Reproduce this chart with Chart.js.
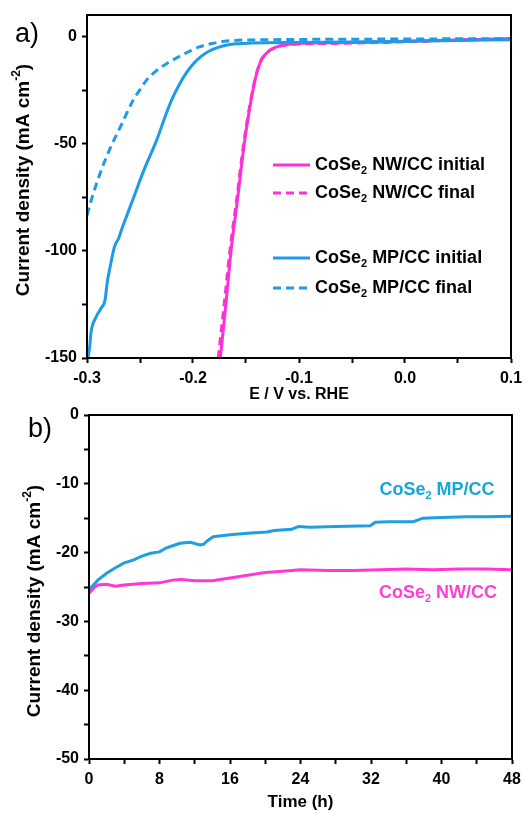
<!DOCTYPE html>
<html lang="en">

<head>
    <meta charset="UTF-8">
    <title>CoSe2 HER polarization and stability</title>
    <script src="https://cdn.jsdelivr.net/npm/chart.js"></script>
    <style>
        body {
            margin: 0;
            padding: 0;
            background: #fff;
        }

        #wrap {
            position: relative;
            width: 523px;
            height: 813px;
        }

        canvas {
            position: absolute;
            left: 0;
        }
    </style>
</head>

<body>
    <div id="wrap">
        <canvas id="chartA" width="523" height="404" style="top:0"></canvas>
        <canvas id="chartB" width="523" height="409" style="top:404px"></canvas>
    </div>

    <script>
        // ---- panel a: polarization curves (E vs RHE in V, j in mA cm-2) ----
        const nwInitE = [-0.1742, -0.1690, -0.1641, -0.1580, -0.1516, -0.1470, -0.1430, -0.1395, -0.1360, -0.1320, -0.1270, -0.1210, -0.1130, -0.1040, -0.0900, -0.0600, -0.0200, 0.0200, 0.0600, 0.1000];
        const nwInitJ = [-150, -125, -100, -76, -50, -35, -24, -16.5, -11.5, -8.5, -6.3, -4.9, -3.9, -3.4, -3.1, -2.9, -2.6, -2, -1.5, -1.1];

        const nwFinalE = [-0.1762, -0.1706, -0.1652, -0.1588, -0.1522, -0.1474, -0.1433, -0.1397, -0.1360, -0.1318, -0.1266, -0.1205, -0.1125, -0.1035, -0.0900, -0.0600, -0.0200, 0.0200, 0.0600, 0.1000];
        const nwFinalJ = [-150, -125, -100, -76, -50, -35, -24, -16.5, -11.3, -8.3, -6.2, -4.9, -4.0, -3.6, -3.4, -3.2, -2.8, -2.2, -1.6, -1.2];

        const mpInitE = [-0.2991, -0.2975, -0.2962, -0.2915, -0.2870, -0.2830, -0.2810, -0.2784, -0.2740, -0.2700, -0.2666, -0.2620, -0.2570, -0.2460, -0.2340, -0.2260, -0.2200, -0.2130, -0.2060, -0.1990, -0.1920, -0.1850, -0.1770, -0.1680, -0.1590, -0.1450, -0.1000, -0.0500, 0.0000, 0.0500, 0.1000];
        const mpInitJ = [-150, -145, -138, -131, -127, -123, -115, -108, -98, -94, -89, -83, -76.4, -62, -48, -37, -29.5, -22.5, -16.8, -12.4, -9.2, -6.9, -5.2, -4.0, -3.4, -3.1, -2.8, -2.6, -2.3, -1.9, -1.5];

        const mpFinalE = [-0.3000, -0.2960, -0.2870, -0.2780, -0.2690, -0.2565, -0.2500, -0.2440, -0.2350, -0.2250, -0.2150, -0.2060, -0.1940, -0.1820, -0.1720, -0.1630, -0.1400, -0.1000, -0.0500, 0.0000, 0.0500, 0.1000];
        const mpFinalJ = [-83.5, -76.4, -63, -52, -42.7, -29.8, -24.8, -20.5, -16.2, -12.7, -9.9, -7.6, -4.9, -3.3, -2.4, -1.9, -1.6, -1.4, -1.3, -1.2, -1.1, -1];

        const seriesA = ['CoSe₂ NW/CC initial', 'CoSe₂ NW/CC final', 'CoSe₂ MP/CC initial', 'CoSe₂ MP/CC final'];

        // ---- panel b: chronoamperometry (time in h, j in mA cm-2) ----
        const mpTime = [0, 0.5, 1, 2, 3, 4, 5, 6, 7, 8, 8.8, 9.5, 10.3, 11.5, 12.6, 13.0, 13.4, 14.1, 16, 18, 20.2, 21, 23, 23.8, 25, 28, 31.9, 32.5, 34, 36.8, 37.9, 40, 42.9, 45, 48];
        const mpCur = [-25.4, -24.7, -24.0, -23.0, -22.2, -21.5, -21.1, -20.5, -20.1, -19.9, -19.3, -19.0, -18.65, -18.5, -18.9, -18.8, -18.3, -17.7, -17.4, -17.2, -17.0, -16.8, -16.6, -16.2, -16.3, -16.2, -16.1, -15.6, -15.5, -15.5, -15.0, -14.9, -14.8, -14.8, -14.7];

        const nwTime = [0, 0.5, 1, 2, 3, 4, 6, 8, 9.5, 10.5, 12, 14, 16, 18, 20, 22, 24, 27, 30, 33, 36, 39, 42, 45, 48];
        const nwCur = [-25.9, -25.2, -24.7, -24.6, -24.9, -24.7, -24.5, -24.4, -24.0, -23.9, -24.1, -24.1, -23.7, -23.3, -22.9, -22.7, -22.5, -22.6, -22.6, -22.5, -22.4, -22.5, -22.4, -22.4, -22.5];

        const seriesB = ['CoSe₂ MP/CC', 'CoSe₂ NW/CC'];

        const PINK = '#ff30d6';
        const BLUE = '#1c9be8';
        const FONT = '"Liberation Sans", Arial, sans-serif';

        const toXY = (xs, ys) => xs.map((x, i) => ({ x: x, y: ys[i] }));

        // text with CoSe₂-style subscripts / cm⁻² superscripts
        function richParts(text) {
            const parts = [];
            text.split(/(₂|⁻²)/).forEach(s => {
                if (s === '₂') parts.push(['2', 'sub']);
                else if (s === '⁻²') parts.push(['-2', 'sup']);
                else if (s) parts.push([s, null]);
            });
            return parts;
        }

        function drawRich(ctx, text, x, y, size, color, align) {
            const parts = richParts(text);
            const base = `bold ${size}px ${FONT}`;
            const small = `bold ${Math.round(size * 0.62)}px ${FONT}`;
            let w = 0;
            parts.forEach(([t, m]) => { ctx.font = m ? small : base; w += ctx.measureText(t).width; });
            let cx = align === 'center' ? x - w / 2 : x;
            ctx.fillStyle = color;
            ctx.textAlign = 'left';
            ctx.textBaseline = 'middle';
            parts.forEach(([t, m]) => {
                ctx.font = m ? small : base;
                const dy = m === 'sub' ? size * 0.32 : (m === 'sup' ? -size * 0.36 : 0);
                ctx.fillText(t, cx, y + dy);
                cx += ctx.measureText(t).width;
            });
        }

        // frame, panel letter, rotated y title, legend / labels
        const extras = {
            id: 'extras',
            afterDraw(chart, args, opts) {
                const { ctx, chartArea: a } = chart;
                ctx.save();
                ctx.strokeStyle = '#000';
                ctx.lineWidth = 2;
                ctx.strokeRect(a.left, a.top, a.right - a.left, a.bottom - a.top);

                ctx.fillStyle = '#000';
                ctx.font = `27px ${FONT}`;
                ctx.textAlign = 'center';
                ctx.textBaseline = 'middle';
                ctx.fillText(opts.letter[0], opts.letter[1], opts.letter[2]);

                ctx.save();
                ctx.translate(opts.yTitle[0], opts.yTitle[1]);
                ctx.rotate(-Math.PI / 2);
                drawRich(ctx, 'Current density (mA cm⁻²)', 0, 0, 19, '#000', 'center');
                ctx.restore();

                (opts.legend || []).forEach(item => {
                    const ds = chart.data.datasets[item.i];
                    ctx.save();
                    ctx.strokeStyle = ds.borderColor;
                    ctx.lineWidth = 3;
                    ctx.setLineDash(ds.borderDash || []);
                    ctx.beginPath();
                    ctx.moveTo(273, item.y);
                    ctx.lineTo(310, item.y);
                    ctx.stroke();
                    ctx.restore();
                    drawRich(ctx, ds.label, 315, item.y, 18, '#000', 'left');
                });

                (opts.labels || []).forEach(item => {
                    drawRich(ctx, chart.data.datasets[item.i].label, item.x, item.y, 18, item.color, 'center');
                });
                ctx.restore();
            }
        };

        const tickFont = { family: FONT, size: 16, weight: 'bold' };
        const titleFont = { family: FONT, size: 16, weight: 'bold' };

        function axisBase(extra) {
            return Object.assign({
                type: 'linear',
                border: { display: true, color: '#000', width: 2 },
                grid: { drawOnChartArea: false, drawTicks: true, tickLength: 5, tickColor: '#000', tickWidth: 2 },
            }, extra);
        }

        // fixed axis band sizes so the plot box lands where the figure has it
        const fixX = h => s => { s.height = h; s.paddingLeft = 0; s.paddingRight = 0; };
        const fixY = w => s => { s.width = w; s.paddingTop = 0; s.paddingBottom = 0; };

        // ---- chart a ----
        new Chart(document.getElementById('chartA'), {
            type: 'line',
            data: {
                datasets: [
                    { label: seriesA[0], data: toXY(nwInitE, nwInitJ), borderColor: PINK, borderWidth: 3, order: 3 },
                    { label: seriesA[1], data: toXY(nwFinalE, nwFinalJ), borderColor: PINK, borderWidth: 3, borderDash: [8, 5], order: 2 },
                    { label: seriesA[2], data: toXY(mpInitE, mpInitJ), borderColor: BLUE, borderWidth: 3, order: 1 },
                    { label: seriesA[3], data: toXY(mpFinalE, mpFinalJ), borderColor: BLUE, borderWidth: 3, borderDash: [8, 5], order: 0 },
                ],
            },
            options: {
                responsive: false,
                animation: false,
                devicePixelRatio: 1,
                layout: { padding: { top: 15, right: 12, left: 0, bottom: 0 } },
                elements: { point: { radius: 0 }, line: { cubicInterpolationMode: 'monotone' } },
                plugins: {
                    legend: { display: false },
                    tooltip: { enabled: false },
                    extras: {
                        letter: ['a)', 27, 35],
                        yTitle: [24, 180],
                        legend: [{ i: 0, y: 165 }, { i: 1, y: 193 }, { i: 2, y: 258 }, { i: 3, y: 288 }],
                    },
                },
                scales: {
                    x: axisBase({
                        min: -0.3, max: 0.1,
                        afterFit: fixX(46),
                        ticks: {
                            stepSize: 0.05, autoSkip: false, maxRotation: 0, color: '#000', font: tickFont, padding: 6,
                            callback: v => (Math.round(v * 20) % 2 === 0 ? (Math.round(v * 10) / 10).toFixed(1) : ''),
                        },
                        title: { display: true, text: 'E / V vs. RHE', color: '#000', font: titleFont, padding: 0 },
                    }),
                    y: axisBase({
                        min: -150, max: 10,
                        afterFit: fixY(87),
                        afterBuildTicks: s => { s.ticks = s.ticks.filter(t => t.value <= 0); },
                        ticks: {
                            stepSize: 25, autoSkip: false, color: '#000', font: tickFont, padding: 5,
                            callback: v => (v % 50 === 0 ? String(v) : ''),
                        },
                    }),
                },
            },
            plugins: [extras],
        });

        // ---- chart b ----
        new Chart(document.getElementById('chartB'), {
            type: 'line',
            data: {
                datasets: [
                    { label: seriesB[0], data: toXY(mpTime, mpCur), borderColor: '#1e9fe4', borderWidth: 3 },
                    { label: seriesB[1], data: toXY(nwTime, nwCur), borderColor: '#ff38d4', borderWidth: 3 },
                ],
            },
            options: {
                responsive: false,
                animation: false,
                devicePixelRatio: 1,
                layout: { padding: { top: 11, right: 11, left: 0, bottom: 0 } },
                elements: { point: { radius: 0 }, line: { tension: 0 } },
                plugins: {
                    legend: { display: false },
                    tooltip: { enabled: false },
                    extras: {
                        letter: ['b)', 40, 26],
                        yTitle: [35, 197],
                        labels: [{ i: 0, x: 437, y: 86, color: '#17a6da' }, { i: 1, x: 438, y: 189, color: '#ff3fd2' }],
                    },
                },
                scales: {
                    x: axisBase({
                        min: 0, max: 48,
                        afterFit: fixX(54),
                        ticks: {
                            stepSize: 4, autoSkip: false, maxRotation: 0, color: '#000', font: tickFont, padding: 6,
                            callback: v => (v % 8 === 0 ? String(v) : ''),
                        },
                        title: { display: true, text: 'Time (h)', color: '#000', font: { family: FONT, size: 17, weight: 'bold' }, padding: 0 },
                    }),
                    y: axisBase({
                        min: -50, max: 0,
                        afterFit: fixY(89),
                        ticks: {
                            stepSize: 5, autoSkip: false, color: '#000', font: tickFont, padding: 5,
                            callback: v => (v % 10 === 0 ? String(v) : ''),
                        },
                    }),
                },
            },
            plugins: [extras],
        });
    </script>
</body>

</html>
